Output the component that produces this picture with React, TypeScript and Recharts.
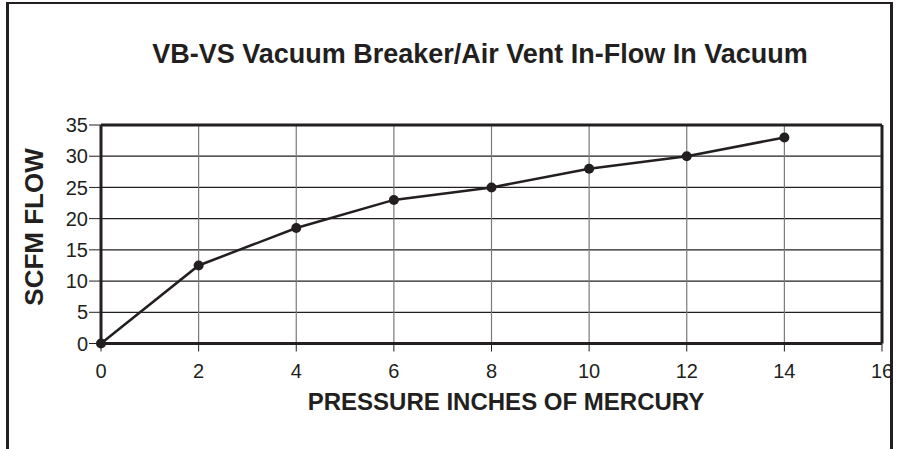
import { LineChart, Line, XAxis, YAxis, CartesianGrid, ReferenceLine, Label } from "recharts";

const pressure = [0, 2, 4, 6, 8, 10, 12, 14];
const scfmFlow = [0, 12.5, 18.5, 23, 25, 28, 30, 33];
const xTicks = [0, 2, 4, 6, 8, 10, 12, 14, 16];
const yTicks = [0, 5, 10, 15, 20, 25, 30, 35];

const title = "VB-VS Vacuum Breaker/Air Vent In-Flow In Vacuum";
const xTitle = "PRESSURE INCHES OF MERCURY";
const yTitle = "SCFM FLOW";

const data = pressure.map((p, i) => ({ p, flow: scfmFlow[i] }));

const INK = "#231f20";
const FONT = "'Liberation Sans', Arial, Helvetica, sans-serif";

export default function App() {
    return (
        <div
            style={{
                position: "absolute",
                left: 0,
                top: 0,
                width: 898,
                height: 449,
                background: "#fff",
                fontFamily: FONT,
            }}
        >
            {/* outer frame, open at the bottom */}
            <div
                style={{
                    position: "absolute",
                    left: 6,
                    top: 2,
                    width: 881,
                    height: 460,
                    borderTop: `2px solid ${INK}`,
                    borderLeft: `3px solid ${INK}`,
                    borderRight: `3px solid ${INK}`,
                }}
            />
            <LineChart
                width={898}
                height={449}
                data={data}
                margin={{ top: 125, right: 16, bottom: 0, left: 0 }}
                style={{ position: "absolute", left: 0, top: 0 }}
            >
                <text
                    x={480}
                    y={63}
                    textAnchor="middle"
                    fontSize={27}
                    fontWeight="bold"
                    fill={INK}
                    fontFamily={FONT}
                >
                    {title}
                </text>
                <CartesianGrid vertical={false} stroke={INK} strokeWidth={1.2} />
                <CartesianGrid horizontal={false} stroke="#7a7a7a" strokeWidth={1.2} />
                <XAxis
                    dataKey="p"
                    type="number"
                    domain={[0, 16]}
                    ticks={xTicks}
                    interval={0}
                    height={105.5}
                    tickSize={8}
                    tickMargin={12}
                    axisLine={{ stroke: INK, strokeWidth: 3 }}
                    tickLine={{ stroke: INK, strokeWidth: 1 }}
                    tick={{ fill: INK, fontSize: 20, fontFamily: FONT }}
                >
                    <Label
                        content={() => (
                            <text
                                x={506}
                                y={410}
                                textAnchor="middle"
                                fontSize={24}
                                fontWeight="bold"
                                fill={INK}
                                fontFamily={FONT}
                            >
                                {xTitle}
                            </text>
                        )}
                    />
                </XAxis>
                <YAxis
                    type="number"
                    domain={[0, 35]}
                    ticks={yTicks}
                    interval={0}
                    width={101}
                    tickSize={12}
                    tickMargin={1}
                    axisLine={{ stroke: INK, strokeWidth: 3 }}
                    tickLine={{ stroke: INK, strokeWidth: 1 }}
                    tick={{ fill: INK, fontSize: 20, fontFamily: FONT }}
                >
                    <Label
                        content={() => (
                            <text
                                x={43}
                                y={227}
                                transform="rotate(-90 43 227)"
                                textAnchor="middle"
                                fontSize={26}
                                fontWeight="bold"
                                fill={INK}
                                fontFamily={FONT}
                            >
                                {yTitle}
                            </text>
                        )}
                    />
                </YAxis>
                <ReferenceLine y={35} stroke={INK} strokeWidth={3} />
                <ReferenceLine x={16} stroke={INK} strokeWidth={3} />
                <Line
                    dataKey="flow"
                    type="linear"
                    stroke={INK}
                    strokeWidth={2.5}
                    dot={{ r: 5, fill: INK, stroke: INK, strokeWidth: 0 }}
                    activeDot={false}
                    isAnimationActive={false}
                />
            </LineChart>
        </div>
    );
}
